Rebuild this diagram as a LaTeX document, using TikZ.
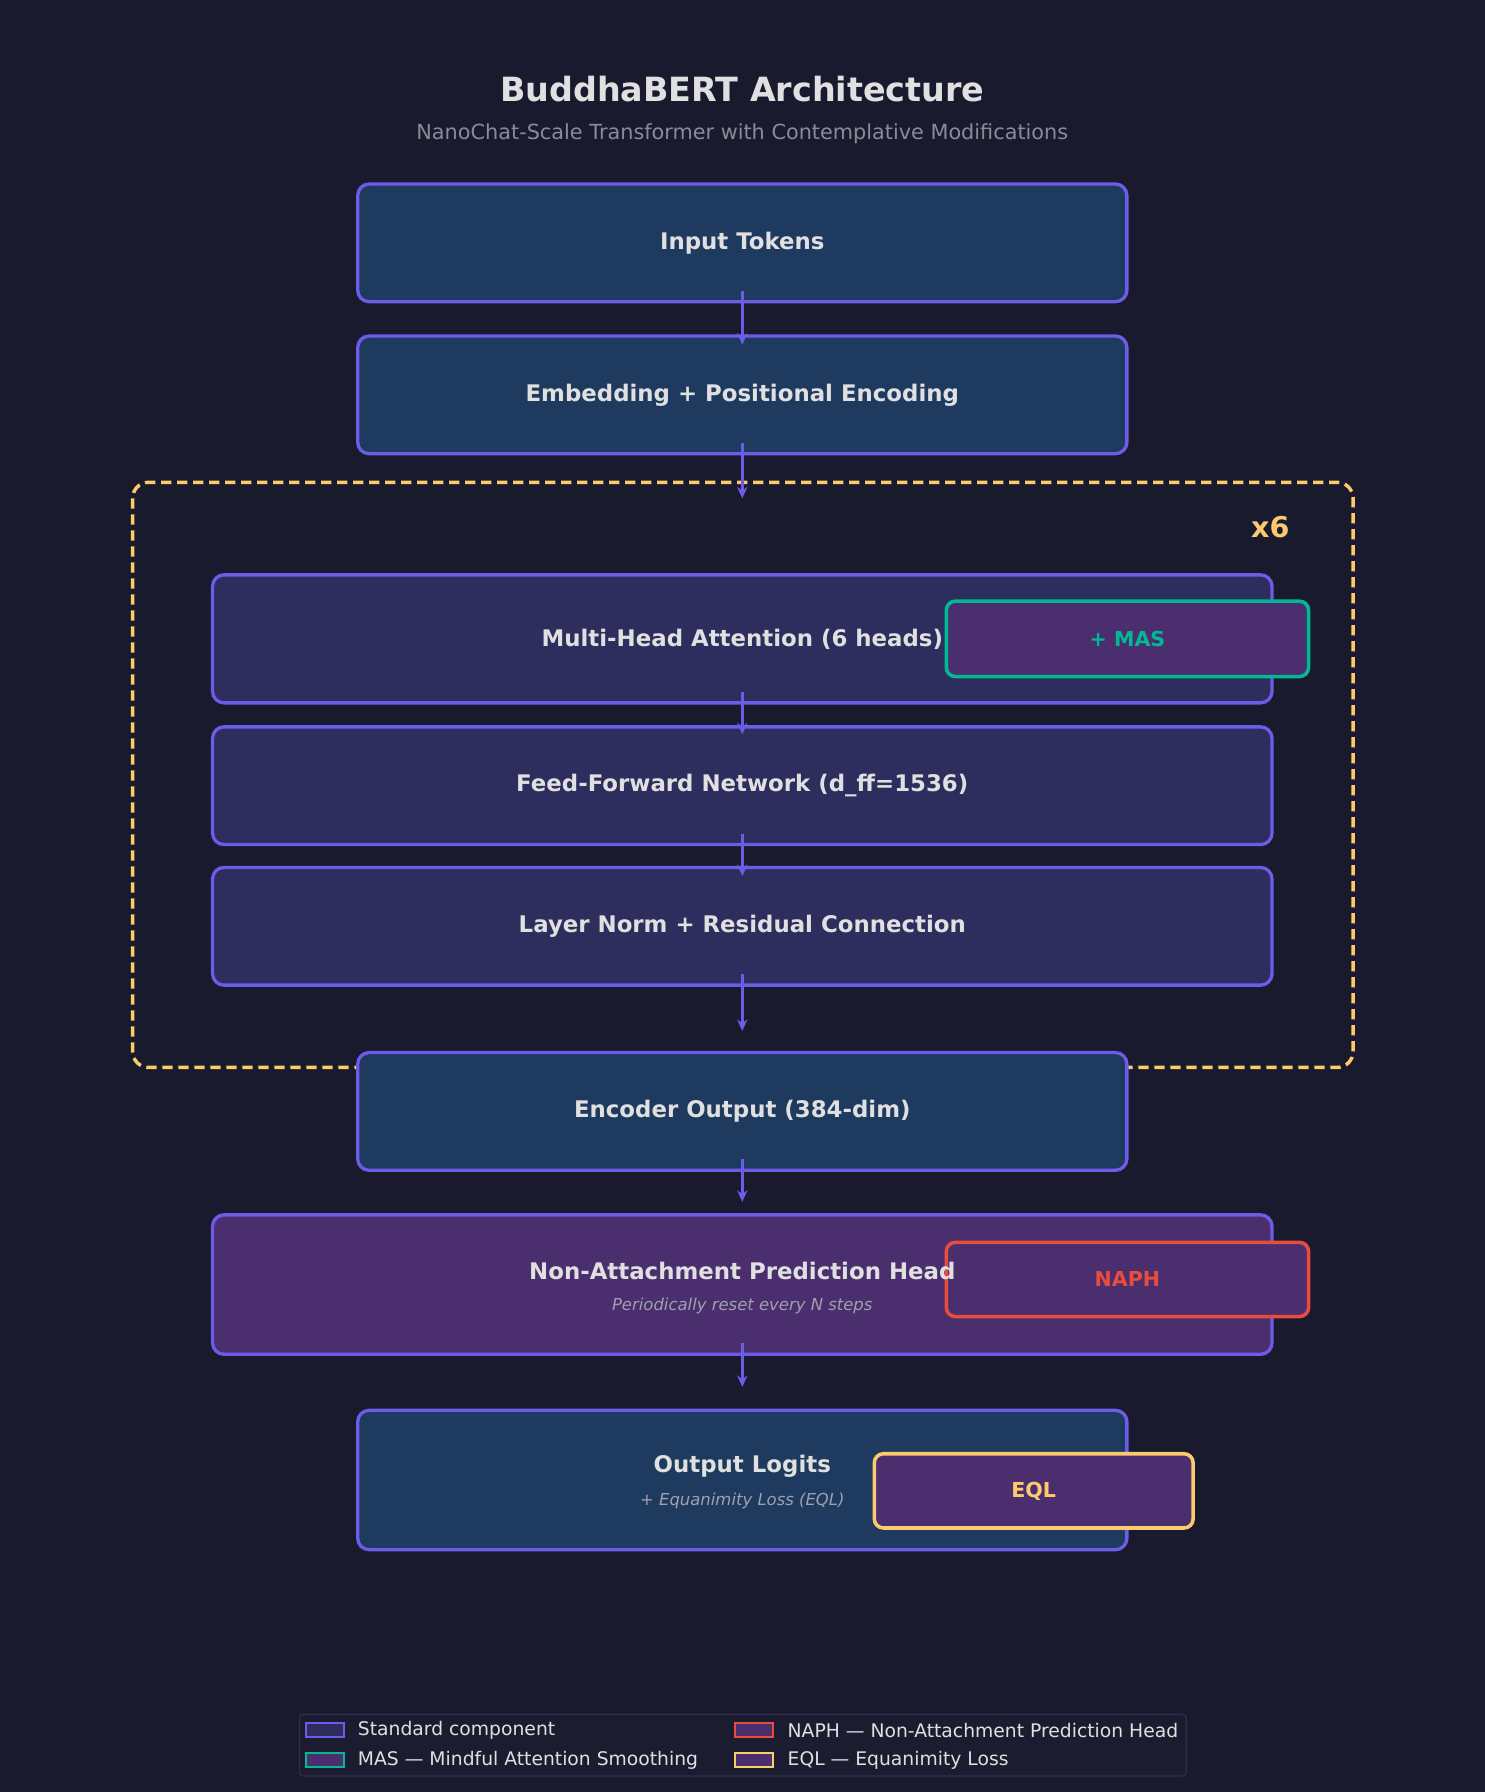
\documentclass[tikz,border=0pt]{standalone}
\usepackage{fontspec}
\setmainfont{DejaVu Sans}
\usetikzlibrary{arrows.meta}
\definecolor{bg}{HTML}{1A1A2E}
\definecolor{txt}{HTML}{E0E0E0}
\definecolor{sub}{HTML}{8A8A98}
\definecolor{subi}{HTML}{A0A0AE}
\definecolor{blk}{HTML}{1E3A5F}
\definecolor{enc}{HTML}{2D2D5E}
\definecolor{pur}{HTML}{4A2E6E}
\definecolor{edge}{HTML}{6C5CE7}
\definecolor{teal}{HTML}{00B894}
\definecolor{redc}{HTML}{E74C3C}
\definecolor{yel}{HTML}{FDCB6E}
\definecolor{legbg}{HTML}{1C1C31}
\definecolor{legedge}{HTML}{2E2E4A}
\tikzset{
  box/.style={draw=edge, line width=2.9pt, rounded corners=10pt, inner sep=0pt, align=center, text=txt},
  badge/.style={line width=3.1pt, rounded corners=8pt, fill=pur, inner sep=0pt, font=\fontsize{18}{21}\selectfont\bfseries},
  arr/.style={draw=edge, line width=3pt, -{Stealth[length=10pt,width=9pt]}},
  btitle/.style={font=\fontsize{20}{24}\selectfont\bfseries},
  patch/.style={line width=1.8pt, minimum width=33pt, minimum height=12pt, inner sep=0pt},
  legtext/.style={anchor=west, text=txt, font=\fontsize{16.4}{19}\selectfont, inner sep=0pt}
}
\begin{document}
\begin{tikzpicture}[x=1pt,y=-1pt]
\fill[bg] (0,0) rectangle (1299,1568);
\useasboundingbox (0,0) rectangle (1299,1568);
% titles
\node[text=txt, font=\fontsize{29.2}{34}\selectfont\bfseries] (title) at (649.5,78) {BuddhaBERT Architecture};
\node[text=sub, font=\fontsize{18.2}{21}\selectfont] (subtitle) at (649.5,117) {NanoChat-Scale Transformer with Contemplative Modifications};
% repeat block frame
\draw[yel, line width=3pt, dash pattern=on 9pt off 5pt, rounded corners=14pt] (116,422) rectangle (1184,934);
\node[text=yel, font=\fontsize{25}{29}\selectfont\bfseries] (rep) at (1111.5,461) {x6};
% main boxes
\node[box, fill=blk, minimum width=673pt, minimum height=103pt, btitle] (inp) at (649.5,212.5) {Input Tokens};
\node[box, fill=blk, minimum width=673pt, minimum height=103pt, btitle] (emb) at (649.5,345.5) {Embedding + Positional Encoding};
\node[box, fill=enc, minimum width=927pt, minimum height=112pt] (mha) at (649.5,559) {};
\node[badge, draw=teal, text=teal, minimum width=317pt, minimum height=66pt] (mas) at (986.5,559) {+ MAS};
\node[btitle, text=txt] (mhat) at (649.5,559) {Multi-Head Attention (6 heads)};
\node[box, fill=enc, minimum width=927pt, minimum height=103pt, btitle] (ffn) at (649.5,687.5) {Feed-Forward Network (d\_ff=1536)};
\node[box, fill=enc, minimum width=927pt, minimum height=103pt, btitle] (ln) at (649.5,810.5) {Layer Norm + Residual Connection};
\node[box, fill=blk, minimum width=673pt, minimum height=103pt, btitle] (out) at (649.5,972.5) {Encoder Output (384-dim)};
\node[box, fill=pur, minimum width=927pt, minimum height=122pt] (naph) at (649.5,1124) {};
\node[badge, draw=redc, text=redc, minimum width=317pt, minimum height=65pt] (naphb) at (986.5,1119.5) {NAPH};
\node[btitle, text=txt] (napht) at (649.5,1112) {Non-Attachment Prediction Head};
\node[text=subi, font=\fontsize{14.4}{17}\selectfont\itshape] (naphs) at (649.5,1143) {Periodically reset every N steps};
\node[box, fill=blk, minimum width=673pt, minimum height=122pt] (logit) at (649.5,1295) {};
\node[badge, draw=yel, text=yel, minimum width=279pt, minimum height=65pt] (eql) at (904.5,1304.5) {EQL};
\node[btitle, text=txt] (logitt) at (649.5,1283) {Output Logits};
\node[text=subi, font=\fontsize{14.4}{17}\selectfont\itshape] (logits) at (649.5,1313) {+ Equanimity Loss (EQL)};
% free ends
\coordinate (c1) at (649.5,436);
\coordinate (c2) at (649.5,902);
% arrows
\draw[arr] ([yshift=11pt]inp.south) -- ([yshift=-9pt]emb.north);
\draw[arr] ([yshift=11pt]emb.south) -- (c1);
\draw[arr] ([yshift=11pt]mha.south) -- ([yshift=-8pt]ffn.north);
\draw[arr] ([yshift=11pt]ffn.south) -- ([yshift=-9pt]ln.north);
\draw[arr] ([yshift=11pt]ln.south) -- (c2);
\draw[arr] ([yshift=11pt]out.south) -- ([yshift=10pt]naph.north);
\draw[arr] ([yshift=11pt]naph.south) -- ([yshift=19pt]logit.north);
% legend
\draw[legedge, fill=legbg, line width=1pt, rounded corners=3pt] (262,1500) rectangle (1038,1554);
\node[patch, draw=edge, fill=enc] (p1) at (284.5,1514) {};
\node[legtext] (l1) at (313,1514) {Standard component};
\node[patch, draw=teal, fill=pur] (p2) at (284.5,1540) {};
\node[legtext] (l2) at (313,1540) {MAS — Mindful Attention Smoothing};
\node[patch, draw=redc, fill=pur] (p3) at (660,1514) {};
\node[legtext] (l3) at (689,1514) {NAPH — Non-Attachment Prediction Head};
\node[patch, draw=yel, fill=pur] (p4) at (660,1540) {};
\node[legtext] (l4) at (689,1540) {EQL — Equanimity Loss};
\end{tikzpicture}
\end{document}
